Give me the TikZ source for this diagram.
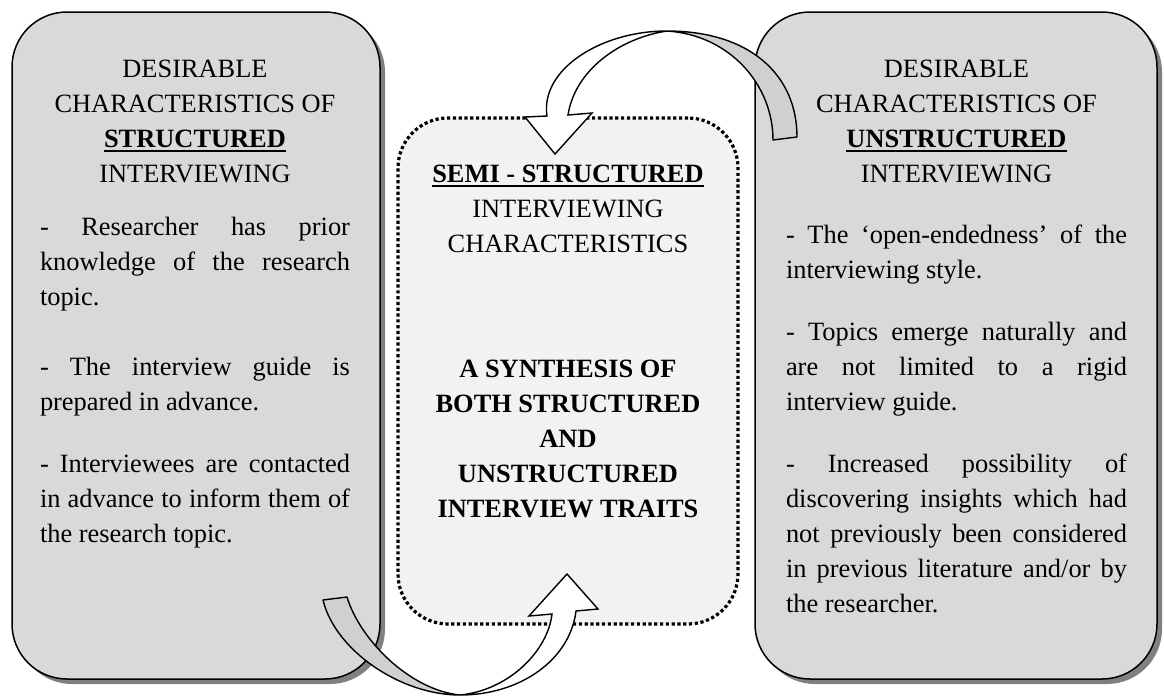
\documentclass[tikz,border=0pt]{standalone}
\usepackage{fontspec}
\setmainfont{Liberation Serif}
\usetikzlibrary{shadows}
\definecolor{boxgray}{HTML}{D9D9D9}
\definecolor{shadowgray}{HTML}{808080}
\definecolor{midfill}{HTML}{F2F2F2}
\definecolor{bandgray}{HTML}{D0D0D0}
\newcommand{\jln}[1]{\hbox to\hsize{#1}}
\newcommand{\lln}[1]{\hbox to\hsize{#1\hfil}}
\newcommand{\cln}[1]{\hbox to\hsize{\hfil#1\hfil}}
\newcommand{\ulb}[1]{\leavevmode\vtop{\hbox{\textbf{#1}}\kern1.4pt\hrule height0.9pt}}
\begin{document}
\begin{tikzpicture}[x=0.5pt,y=-0.5pt,
  txt/.style={inner sep=0pt,outer sep=0pt,anchor=base west,font=\fontsize{13.2pt}{17.55pt}\selectfont},
  sidebox/.style={draw=black,line width=0.75pt,fill=boxgray,rounded corners=27.5pt,inner sep=0pt,
    minimum height=333.5pt,drop shadow={shadow xshift=2.5pt,shadow yshift=-2.5pt,fill=shadowgray,opacity=1}},
  midbox/.style={draw=black,line width=1.6pt,dash pattern=on 1.6pt off 1.3pt,fill=midfill,
    rounded corners=25pt,inner sep=0pt,minimum width=170pt,minimum height=253pt},
  arrowwhite/.style={draw=black,line width=0.7pt,fill=white,line join=miter},
  arrowgray/.style={draw=black,line width=0.7pt,fill=bandgray,line join=round}
]
\useasboundingbox (0,0) rectangle (1164,698);
\fill[white] (0,0) rectangle (1164,698);

% boxes
\node[sidebox,minimum width=184pt] (L) at (196,345.5) {};
\node[sidebox,minimum width=201pt] (R) at (956,345.5) {};
\node[midbox] (C) at (568,371) {};

% left text
\node[txt] (ltitle) at (40,77) {\vtop{\hsize=155pt
  \cln{DESIRABLE}\cln{CHARACTERISTICS OF}\cln{\ulb{STRUCTURED}}\cln{INTERVIEWING}}};
\node[txt] (lp1) at (40,235) {\vtop{\hsize=155pt
  \jln{- Researcher has prior}\jln{knowledge of the research}\lln{topic.}}};
\node[txt] (lp2) at (40,375) {\vtop{\hsize=155pt
  \jln{- The interview guide is}\lln{prepared in advance.}}};
\node[txt] (lp3) at (40,472) {\vtop{\hsize=155pt
  \jln{- Interviewees are contacted}\jln{in advance to inform them of}\lln{the research topic.}}};

% right text
\node[txt] (rtitle) at (786,77) {\vtop{\hsize=170.5pt
  \cln{DESIRABLE}\cln{CHARACTERISTICS OF}\cln{\ulb{UNSTRUCTURED}}\cln{INTERVIEWING}}};
\node[txt] (rp1) at (786,243) {\vtop{\hsize=170.5pt
  \jln{- The ‘open-endedness’ of the}\lln{interviewing style.}}};
\node[txt] (rp2) at (786,340) {\vtop{\hsize=170.5pt
  \jln{- Topics emerge naturally and}\jln{are not limited to a rigid}\lln{interview guide.}}};
\node[txt] (rp3) at (786,472) {\vtop{\hsize=170.5pt
  \jln{- Increased possibility of}\jln{discovering insights which had}\jln{not previously been considered}\jln{in previous literature and/or by}\lln{the researcher.}}};

% centre text
\node[txt] (ctitle) at (408,182) {\vtop{\hsize=160pt
  \cln{\ulb{SEMI - STRUCTURED}}\cln{INTERVIEWING}\cln{CHARACTERISTICS}}};
\node[txt] (csyn) at (408,377) {\vtop{\hsize=160pt\bfseries
  \cln{A SYNTHESIS OF}\cln{BOTH STRUCTURED}\cln{AND}\cln{UNSTRUCTURED}\cln{INTERVIEW TRAITS}}};

% top curved arrow (from right box to centre box)
\coordinate (tT) at (667,31);
\coordinate (tTA) at (773,140);
\coordinate (tTB) at (797,137);
\coordinate (tSL) at (547,116);
\coordinate (tSR) at (568,115);
\coordinate (tHL) at (525,117);
\coordinate (tHR) at (592,113);
\coordinate (tTip) at (555,154);
\draw[arrowgray] (tT) .. controls (750,31) and (797,75) .. (tTB) -- (tTA)
  .. controls (773,85) and (730,35) .. (tT) -- cycle;
\draw[arrowwhite] (tHL) -- (tTip) -- (tHR) -- (tSR)
  .. controls (575,70) and (620,38) .. (tT)
  .. controls (600,31) and (540,70) .. (tSL) -- cycle;

% bottom curved arrow (from left box to centre box)
\coordinate (bA) at (323,600);
\coordinate (bB) at (347,597);
\coordinate (bW) at (460,695);
\coordinate (bSL) at (552,614);
\coordinate (bSR) at (576,611);
\coordinate (bHL) at (529,616);
\coordinate (bHR) at (598,609);
\coordinate (bTip) at (567,574);
\draw[arrowgray] (bA) .. controls (335,650) and (400,695) .. (bW)
  .. controls (410,690) and (360,640) .. (bB) -- cycle;
\draw[arrowwhite] (bW) .. controls (520,695) and (570,660) .. (bSR) -- (bHR) -- (bTip)
  -- (bHL) -- (bSL) .. controls (548,650) and (510,690) .. (bW) -- cycle;
\end{tikzpicture}
\end{document}
